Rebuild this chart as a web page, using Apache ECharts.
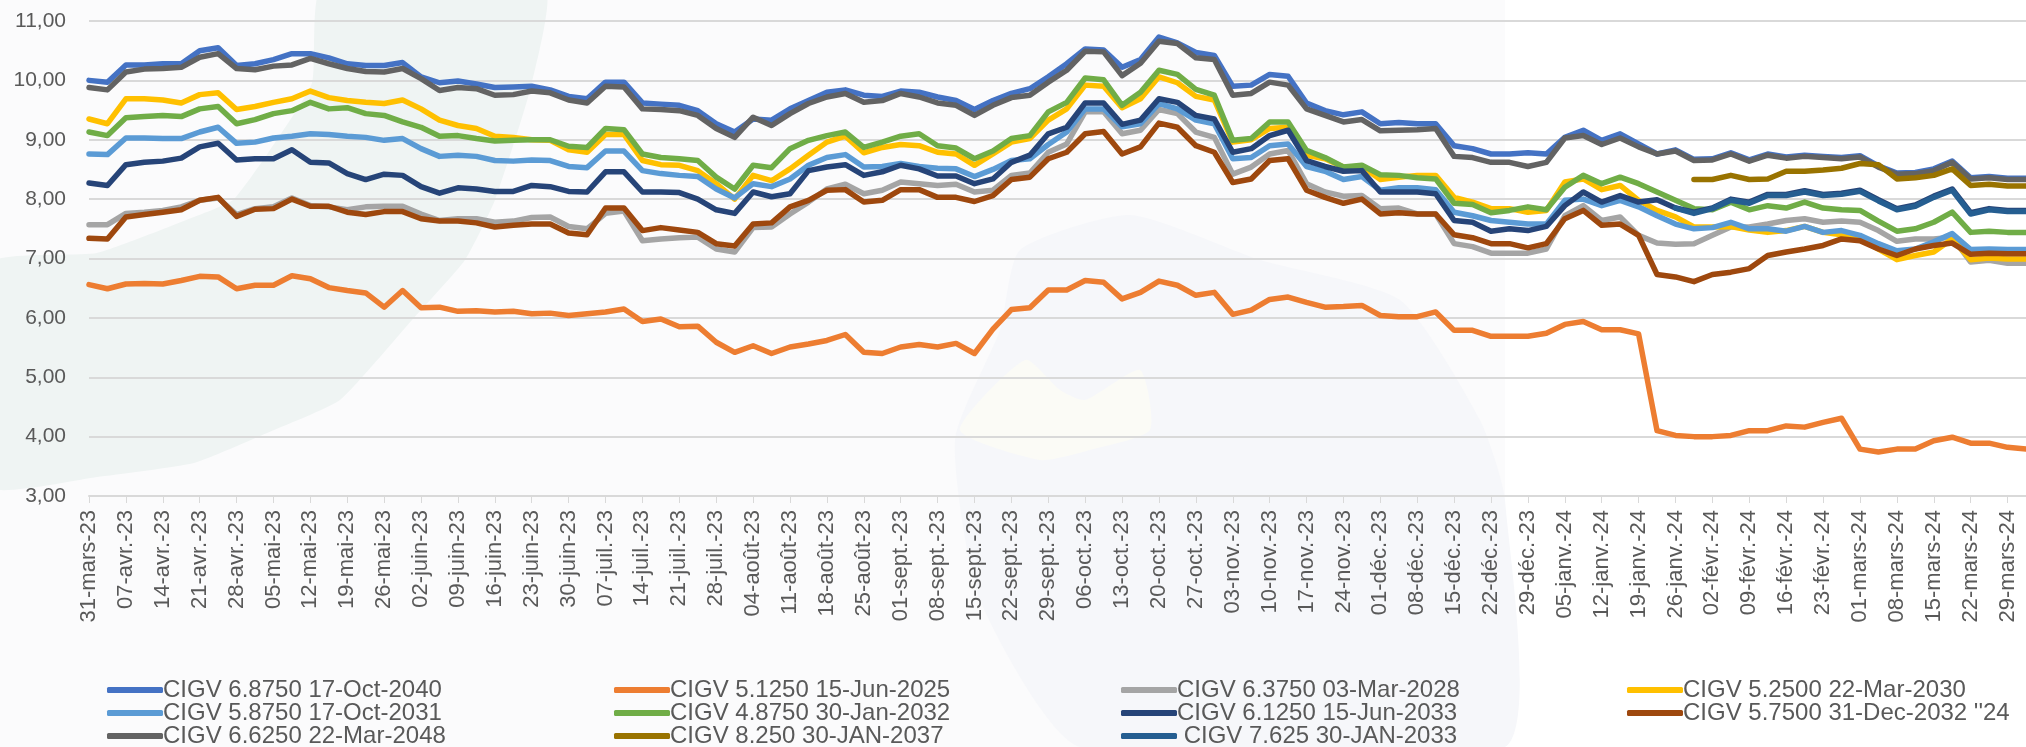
<!DOCTYPE html>
<html><head><meta charset="utf-8">
<style>html,body{margin:0;padding:0;background:#fff}#c{width:2026px;height:747px}</style>
<script src="https://cdn.jsdelivr.net/npm/echarts@6/dist/echarts.min.js"></script>
</head><body><div id="c"></div>
<script>
const weekLabels=['31-mars-23','07-avr.-23','14-avr.-23','21-avr.-23','28-avr.-23','05-mai-23','12-mai-23','19-mai-23','26-mai-23','02-juin-23','09-juin-23','16-juin-23','23-juin-23','30-juin-23','07-juil.-23','14-juil.-23','21-juil.-23','28-juil.-23','04-août-23','11-août-23','18-août-23','25-août-23','01-sept.-23','08-sept.-23','15-sept.-23','22-sept.-23','29-sept.-23','06-oct.-23','13-oct.-23','20-oct.-23','27-oct.-23','03-nov.-23','10-nov.-23','17-nov.-23','24-nov.-23','01-déc.-23','08-déc.-23','15-déc.-23','22-déc.-23','29-déc.-23','05-janv.-24','12-janv.-24','19-janv.-24','26-janv.-24','02-févr.-24','09-févr.-24','16-févr.-24','23-févr.-24','01-mars-24','08-mars-24','15-mars-24','22-mars-24','29-mars-24'];
const cigv2040=[10.00,9.97,10.26,10.26,10.28,10.28,10.50,10.55,10.25,10.28,10.35,10.45,10.45,10.38,10.28,10.25,10.25,10.30,10.06,9.96,9.99,9.94,9.88,
9.89,9.90,9.84,9.73,9.69,9.97,9.97,9.62,9.60,9.58,9.49,9.27,9.13,9.35,9.33,9.52,9.66,9.80,9.84,9.75,9.73,9.82,
9.80,9.72,9.66,9.51,9.66,9.78,9.86,10.06,10.28,10.53,10.51,10.22,10.35,10.73,10.63,10.47,10.42,9.90,9.92,10.10,10.07,
9.62,9.49,9.42,9.47,9.27,9.29,9.27,9.27,8.90,8.85,8.76,8.76,8.78,8.76,9.04,9.16,8.99,9.10,8.93,8.76,
8.83,8.67,8.68,8.78,8.66,8.76,8.71,8.74,8.72,8.70,8.73,8.56,8.44,8.45,8.51,8.64,8.36,8.38,8.35,8.35];
const cigv2025=[6.56,6.49,6.57,6.58,6.57,6.63,6.70,6.69,6.49,6.55,6.55,6.71,6.66,6.51,6.46,6.42,6.18,6.46,6.17,6.18,6.11,6.12,6.10,
6.11,6.07,6.08,6.04,6.07,6.10,6.15,5.94,5.98,5.85,5.86,5.59,5.42,5.53,5.40,5.51,5.56,5.62,5.72,5.42,5.40,5.51,
5.55,5.51,5.57,5.40,5.81,6.14,6.17,6.47,6.47,6.63,6.60,6.32,6.43,6.62,6.55,6.38,6.43,6.06,6.13,6.31,6.35,
6.26,6.18,6.19,6.21,6.04,6.02,6.02,6.10,5.79,5.79,5.69,5.69,5.69,5.74,5.89,5.94,5.80,5.80,5.73,4.10,
4.02,4.00,4.00,4.02,4.10,4.10,4.18,4.16,4.24,4.31,3.79,3.74,3.79,3.79,3.93,3.99,3.89,3.89,3.82,3.79];
const cigv2028=[7.57,7.57,7.76,7.78,7.81,7.87,7.98,8.02,7.74,7.84,7.87,8.02,7.89,7.87,7.82,7.87,7.88,7.88,7.75,7.64,7.67,7.67,7.61,
7.63,7.69,7.70,7.54,7.50,7.76,7.80,7.30,7.33,7.35,7.36,7.16,7.11,7.52,7.53,7.75,7.95,8.17,8.25,8.09,8.15,8.29,
8.26,8.23,8.25,8.12,8.15,8.40,8.44,8.79,8.93,9.47,9.47,9.10,9.16,9.51,9.44,9.13,9.04,8.42,8.54,8.76,8.82,
8.26,8.12,8.05,8.06,7.84,7.85,7.75,7.75,7.25,7.20,7.09,7.09,7.09,7.16,7.72,7.89,7.64,7.70,7.39,7.26,
7.24,7.25,7.39,7.53,7.53,7.58,7.64,7.67,7.61,7.63,7.61,7.47,7.29,7.33,7.33,7.36,6.94,6.97,6.92,6.92];
const cigv2030=[9.35,9.27,9.69,9.69,9.67,9.62,9.76,9.79,9.51,9.56,9.63,9.69,9.82,9.71,9.66,9.63,9.61,9.67,9.52,9.33,9.24,9.19,9.06,
9.04,9.00,8.99,8.83,8.79,9.09,9.09,8.65,8.58,8.57,8.48,8.26,8.00,8.40,8.31,8.51,8.74,8.96,9.06,8.78,8.87,8.92,
8.90,8.79,8.76,8.57,8.76,8.96,9.02,9.33,9.52,9.92,9.90,9.54,9.69,10.06,9.96,9.73,9.67,8.96,9.00,9.19,9.21,
8.74,8.68,8.54,8.55,8.33,8.37,8.40,8.40,8.03,7.95,7.84,7.84,7.78,7.81,8.29,8.34,8.16,8.23,7.98,7.81,
7.70,7.53,7.53,7.54,7.48,7.44,7.47,7.54,7.44,7.40,7.33,7.16,6.98,7.05,7.11,7.33,6.98,7.01,6.99,6.99];
const cigv2031=[8.76,8.75,9.03,9.03,9.02,9.02,9.13,9.21,8.94,8.96,9.03,9.06,9.10,9.09,9.06,9.04,8.99,9.02,8.85,8.72,8.74,8.72,8.65,
8.64,8.66,8.65,8.55,8.53,8.81,8.81,8.48,8.43,8.40,8.38,8.17,8.02,8.26,8.21,8.34,8.57,8.70,8.75,8.54,8.55,8.60,
8.55,8.52,8.51,8.38,8.50,8.65,8.68,8.92,9.13,9.52,9.52,9.22,9.27,9.61,9.52,9.33,9.27,8.68,8.70,8.90,8.93,
8.55,8.47,8.33,8.38,8.15,8.19,8.19,8.16,7.78,7.72,7.64,7.61,7.58,7.58,7.98,8.00,7.89,7.98,7.87,7.72,
7.58,7.50,7.52,7.61,7.50,7.50,7.46,7.54,7.44,7.47,7.39,7.25,7.13,7.16,7.28,7.42,7.15,7.16,7.15,7.15];
const cigv2032=[9.13,9.07,9.37,9.39,9.41,9.39,9.52,9.56,9.27,9.34,9.44,9.49,9.63,9.52,9.54,9.44,9.41,9.30,9.21,9.06,9.07,9.02,8.98,
8.99,9.00,9.00,8.89,8.87,9.19,9.17,8.76,8.70,8.68,8.65,8.37,8.17,8.57,8.53,8.85,8.99,9.07,9.13,8.87,8.96,9.06,
9.10,8.90,8.86,8.68,8.81,9.02,9.07,9.47,9.63,10.04,10.01,9.58,9.80,10.17,10.10,9.85,9.75,8.99,9.02,9.30,9.30,
8.82,8.70,8.54,8.57,8.41,8.40,8.36,8.34,7.93,7.91,7.77,7.81,7.87,7.82,8.20,8.40,8.26,8.37,8.26,8.12,
7.98,7.84,7.82,7.95,7.82,7.89,7.85,7.95,7.85,7.82,7.81,7.63,7.46,7.50,7.61,7.78,7.44,7.46,7.44,7.44];
const cigv2033=[8.27,8.23,8.58,8.62,8.64,8.69,8.88,8.94,8.66,8.68,8.68,8.83,8.62,8.61,8.43,8.33,8.42,8.40,8.21,8.10,8.19,8.17,8.13,
8.13,8.23,8.21,8.13,8.12,8.46,8.46,8.12,8.12,8.11,8.00,7.82,7.76,8.12,8.04,8.09,8.48,8.54,8.58,8.40,8.46,8.57,
8.51,8.39,8.39,8.26,8.34,8.62,8.74,9.10,9.21,9.62,9.62,9.26,9.33,9.69,9.63,9.41,9.35,8.79,8.85,9.07,9.16,
8.65,8.55,8.47,8.48,8.12,8.12,8.12,8.09,7.64,7.61,7.46,7.50,7.47,7.54,7.89,8.12,7.95,8.06,7.95,7.99,
7.85,7.78,7.85,8.00,7.95,8.08,8.08,8.14,8.08,8.10,8.15,7.99,7.84,7.90,8.05,8.17,7.77,7.84,7.81,7.81];
const cigv2032b=[7.34,7.33,7.70,7.74,7.78,7.82,7.98,8.03,7.71,7.83,7.84,8.00,7.88,7.88,7.78,7.74,7.79,7.79,7.67,7.63,7.63,7.60,7.53,
7.56,7.58,7.58,7.43,7.40,7.85,7.85,7.47,7.52,7.48,7.44,7.25,7.21,7.58,7.60,7.87,7.98,8.15,8.16,7.95,7.98,8.16,
8.16,8.03,8.03,7.96,8.06,8.33,8.37,8.68,8.79,9.10,9.14,8.76,8.88,9.28,9.21,8.90,8.79,8.28,8.34,8.65,8.68,
8.15,8.03,7.93,8.00,7.75,7.77,7.75,7.75,7.40,7.35,7.25,7.25,7.18,7.25,7.67,7.81,7.56,7.58,7.39,6.73,
6.69,6.61,6.73,6.77,6.83,7.05,7.11,7.16,7.22,7.33,7.30,7.16,7.05,7.16,7.22,7.26,7.07,7.09,7.08,7.08];
const cigv2048=[9.88,9.84,10.14,10.19,10.20,10.22,10.39,10.45,10.20,10.18,10.24,10.26,10.37,10.28,10.20,10.15,10.14,10.20,10.03,9.83,9.88,9.86,9.75,
9.76,9.82,9.79,9.67,9.62,9.90,9.89,9.52,9.51,9.49,9.41,9.19,9.04,9.38,9.24,9.44,9.61,9.72,9.78,9.63,9.66,9.78,
9.72,9.62,9.58,9.41,9.58,9.71,9.75,9.97,10.17,10.49,10.48,10.08,10.29,10.66,10.62,10.38,10.35,9.75,9.78,9.97,9.92,
9.52,9.41,9.30,9.34,9.15,9.16,9.17,9.19,8.72,8.70,8.62,8.62,8.55,8.62,9.03,9.07,8.92,9.03,8.88,8.76,
8.81,8.65,8.66,8.76,8.64,8.74,8.69,8.72,8.70,8.68,8.71,8.54,8.42,8.43,8.48,8.62,8.34,8.36,8.33,8.33];
const cigv2037=[8.33,8.33,8.40,8.33,8.34,8.47,8.47,8.49,8.52,8.60,8.58,8.34,8.36,8.40,8.51,8.23,8.25,8.22,8.22];
const cigv2033b=[7.85,7.76,7.84,7.98,7.93,8.06,8.06,8.12,8.06,8.08,8.13,7.97,7.82,7.88,8.03,8.15,7.75,7.82,7.79,7.79];
const names=['CIGV 6.8750 17-Oct-2040','CIGV 5.1250 15-Jun-2025','CIGV 6.3750 03-Mar-2028','CIGV 5.2500 22-Mar-2030','CIGV 5.8750 17-Oct-2031','CIGV 4.8750 30-Jan-2032','CIGV 6.1250 15-Jun-2033','CIGV 5.7500 31-Dec-2032 \'\'24','CIGV 6.6250 22-Mar-2048','CIGV 8.250 30-JAN-2037',' CIGV 7.625 30-JAN-2033'];
const colors=['#4472C4','#ED7D31','#A5A5A5','#FFC000','#5B9BD5','#70AD47','#264478','#9E480E','#636363','#997300','#255E91'];

const categories=[];
weekLabels.forEach(l=>{categories.push(l);categories.push('');});
const total=categories.length;
const pad=a=>Array(total-a.length).fill(null).concat(a);
const values=[cigv2040,cigv2025,cigv2028,cigv2030,cigv2031,cigv2032,cigv2033,cigv2032b,cigv2048,pad(cigv2037),pad(cigv2033b)];
const font='"Liberation Sans",Arial,sans-serif';
const legendX=[102,609,1116,1622], legendY=[685,708,731];

const chart=echarts.init(document.getElementById('c'),null,{renderer:'canvas'});
chart.setOption({
  animation:false,
  backgroundColor:'#ffffff',
  graphic:{elements:[
    {type:'rect',z:-10,silent:true,shape:{x:0,y:0,width:1505,height:747},style:{fill:'#fbfbfc'}},
    {type:'polygon',z:-9,silent:true,shape:{smooth:0.15,points:[[321,-10],[545,-10],[530,90],[495,200],[465,260],[412,320],[340,400],[267,433],[194,463],[97,477],[-10,487],[-10,263],[97,253],[194,217],[233,200],[268,153],[312,83]]},style:{fill:'#eff4f3'}},
    {type:'polygon',z:-9,silent:true,shape:{smooth:0.2,points:[[955,440],[1000,330],[1020,250],[1130,215],[1260,260],[1400,300],[1480,420],[1505,500],[1505,747],[1080,747],[980,600]]},style:{fill:'#f6f7fa'}},
    {type:'polygon',z:-8,silent:true,shape:{smooth:0.2,points:[[1025,360],[1060,390],[1085,400],[1140,370],[1150,430],[1090,450],[1040,460],[960,430]]},style:{fill:'#fbfbf6'}}
  ]},
  grid:{left:89,right:-8,top:21,bottom:251,containLabel:false},
  color:colors,
  legend:names.map((n,i)=>({
    left:legendX[i%4],top:legendY[Math.floor(i/4)]-12,orient:'horizontal',itemGap:0,itemWidth:56,itemHeight:6,icon:'roundRect',selectedMode:false,
    data:[n],
    textStyle:{fontFamily:font,fontSize:24,color:'#595959',lineHeight:24,padding:[0,0,0,-5]}
  })),
  xAxis:{type:'category',data:categories,boundaryGap:false,
    axisLine:{lineStyle:{color:'#d9d9d9',width:2}},
    axisTick:{interval:1,length:7,lineStyle:{color:'#d9d9d9',width:1}},
    axisLabel:{interval:1,rotate:90,margin:14,padding:[6,0,0,0],fontFamily:font,fontSize:22,color:'#595959',hideOverlap:false}},
  yAxis:{type:'value',min:3,max:11,interval:1,
    axisLine:{show:false},axisTick:{show:false},
    splitLine:{lineStyle:{color:'#d9d9d9',width:2}},
    axisLabel:{margin:23,fontFamily:font,fontSize:21,color:'#595959',formatter:v=>v.toFixed(2).replace('.',',')}},
  series:names.map((n,i)=>({name:n,type:'line',data:values[i],showSymbol:false,symbol:'none',connectNulls:false,
    lineStyle:{width:5.5,color:colors[i],cap:'round',join:'round'},itemStyle:{color:colors[i]},clip:true}))
});
</script></body></html>
